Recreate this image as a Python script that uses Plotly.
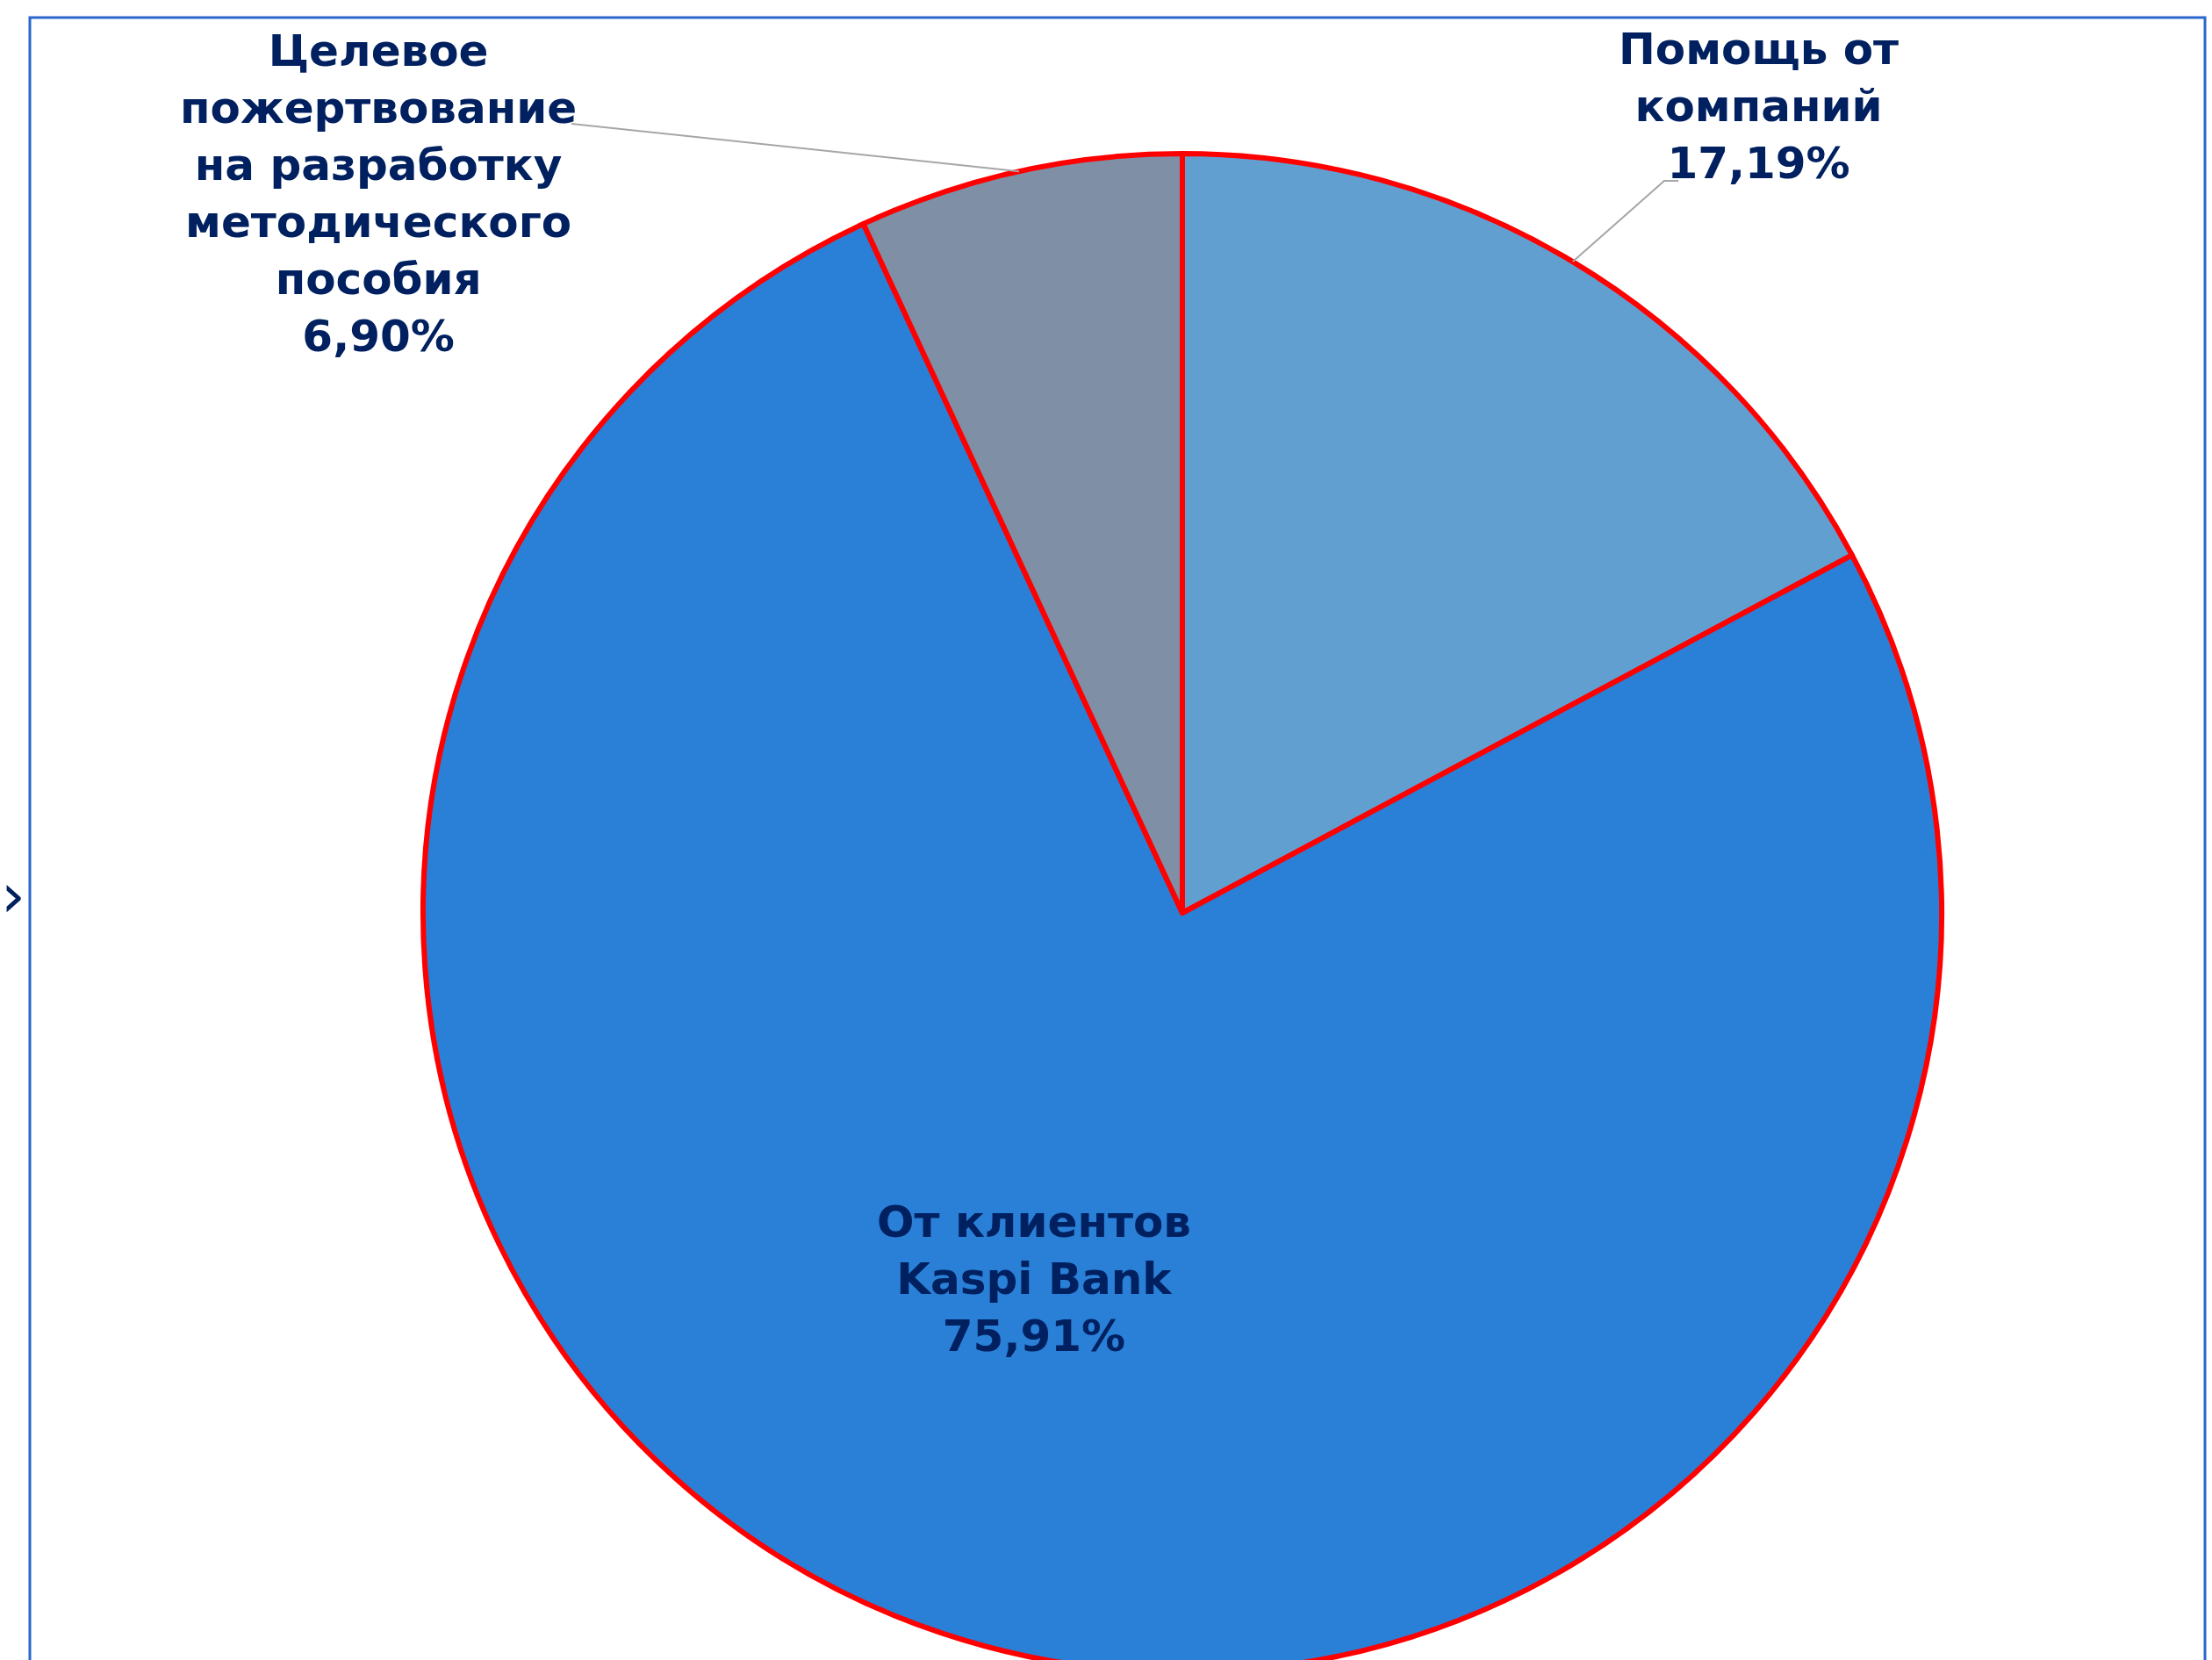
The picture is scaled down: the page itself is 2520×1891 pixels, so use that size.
import math
import plotly.graph_objects as go

# ---- data ----
labels = ["Помощь от<br>компаний", "От клиентов<br>Kaspi Bank",
          "Целевое<br>пожертвование<br>на разработку<br>методического<br>пособия"]
values = [17.19, 75.91, 6.90]
value_text = ["17,19%", "75,91%", "6,90%"]
colors = ["#629FD1", "#2A7FD6", "#7F8FA6"]

# ---- geometry (pixels) ----
W, H = 2520, 1910
CX, CY, R = 1347, 1040, 865          # pie centre / radius in px from top-left

def px(x):
    return x / W

def py(y):
    return 1 - y / H

fig = go.Figure(go.Pie(
    labels=labels, values=values, sort=False, direction="clockwise",
    marker=dict(colors=colors, line=dict(color="#FF0000", width=6)),
    textinfo="none", hoverinfo="skip", showlegend=False,
    domain=dict(x=[px(CX - R), px(CX + R)], y=[py(CY + R), py(CY - R)]),
))

font = dict(family="DejaVu Sans, Noto Sans, sans-serif", size=50, color="#002060")

# label positions (px) for each slice: text centre, leader end
label_pos = [(2004, 121), (1178, 1457), (431, 221)]
leader_end = [[(1896, 206), (1912, 206)], None, [(651, 141)]]

total = sum(values)
cum = 0.0
for i, v in enumerate(values):
    mid = (cum + v / 2) / total
    cum += v
    lx, ly = label_pos[i]
    fig.add_annotation(x=px(lx), y=py(ly), xref="paper", yref="paper",
                       text="<b>" + labels[i] + "<br>" + value_text[i] + "</b>",
                       showarrow=False, font=font, align="center",
                       xanchor="center", yanchor="middle")
    if leader_end[i]:
        th = 2 * math.pi * mid
        ex = CX + R * math.sin(th)
        ey = CY - R * math.cos(th)
        pts = [(ex, ey)] + leader_end[i]
        path = "M " + " L ".join(f"{px(a)},{py(b)}" for a, b in pts)
        fig.add_shape(type="path", path=path, xref="paper", yref="paper",
                      line=dict(color="#A6A6A6", width=2))

# chart border
fig.add_shape(type="rect", xref="paper", yref="paper",
              x0=px(34), x1=px(2512), y0=py(1908), y1=py(20),
              line=dict(color="#2A66CC", width=3), fillcolor="rgba(0,0,0,0)",
              layer="below")

# fragment of text at the far left edge
fig.add_annotation(x=0, y=py(1020), xref="paper", yref="paper",
                   text="›", showarrow=False,
                   font=dict(family="DejaVu Sans", size=70, color="#002060"),
                   xanchor="left", yanchor="middle", borderpad=0)

fig.update_layout(width=W, height=H, margin=dict(l=0, r=0, t=0, b=0),
                  paper_bgcolor="white", plot_bgcolor="white")

fig.write_html("out.html", config={"displayModeBar": False},
               post_script="document.body.style.margin='0';"
                           "document.body.style.overflow='hidden';")
